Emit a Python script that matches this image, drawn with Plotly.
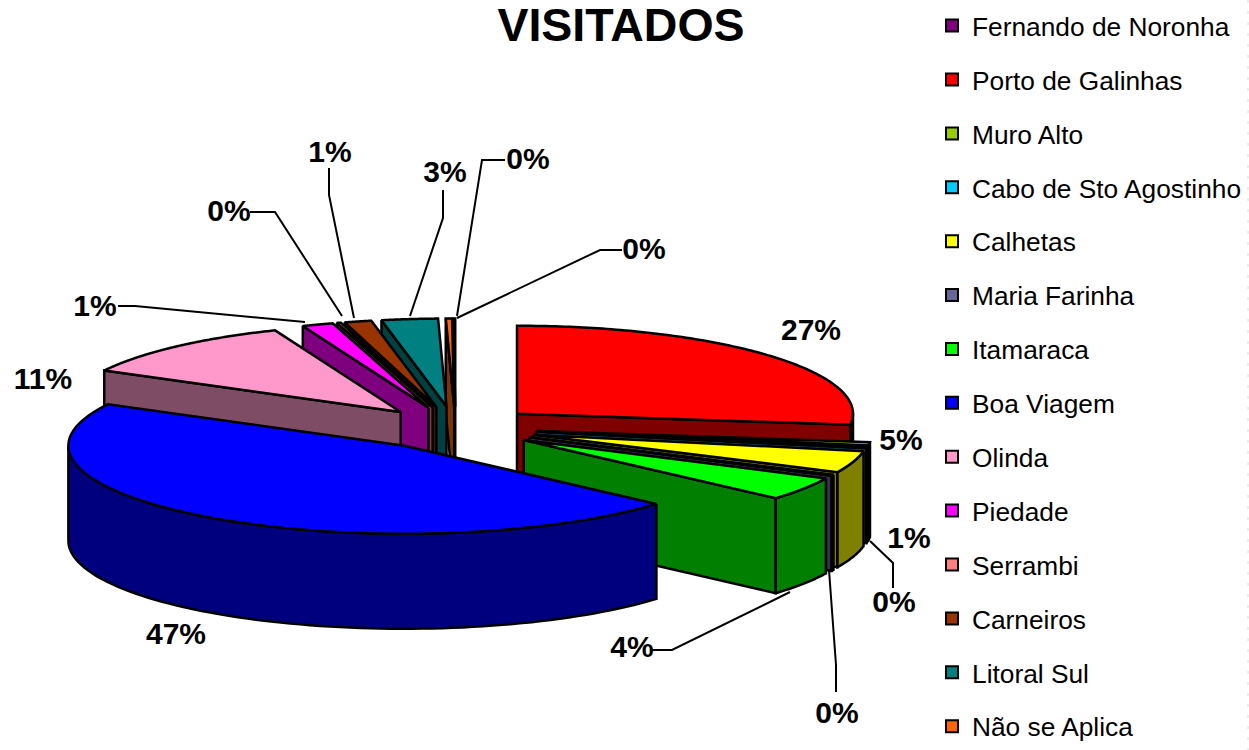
import numpy as np
import plotly.graph_objects as go

# ---- data ----
categories = ["Fernando de Noronha", "Porto de Galinhas", "Muro Alto", "Cabo de Sto Agostinho",
              "Calhetas", "Maria Farinha", "Itamaraca", "Boa Viagem", "Olinda", "Piedade",
              "Serrambi", "Carneiros", "Litoral Sul", "Não se Aplica"]
values = [0.1, 27.0, 0.6, 0.4, 4.0, 0.2, 4.3, 46.3, 11.1, 1.5, 0.2, 1.3, 2.7, 0.3]
percent_labels = ["0%", "27%", "5%", "1%", "0%", "0%", "4%", "47%", "11%", "1%", "0%", "1%", "3%", "0%"]
colors = ["#800080", "#FF0000", "#99CC00", "#00CCFF", "#FFFF00", "#666699", "#00FF00",
          "#0000FF", "#FF99CC", "#FF00FF", "#FF8080", "#993300", "#008080", "#FF6600"]

# ---- layout of the drawing ----
W, H = 1249, 750
CENTER = (455.5, 428.0)
RX, RY, DEPTH = 336.0, 88.0, 95.0
EXPLODE_X = [0.244] * 7 + [0.267] + [0.244] * 6
EXPLODE_Y = 0.245
LW = 2.5
DRAW_ORDER = [0, 13, 12, 11, 10, 9, 8, 1, 2, 3, 4, 5, 6, 7]
LABEL_X = [644, 811, 901, 909, 894, 837, 632, 176, 43, 95, 229, 330, 445, 528]
LABEL_Y = [251, 332, 442, 540, 604, 715, 649, 636, 381, 308, 213, 154, 174, 161]
LEADERS = [
    [(622, 250), (600, 250), (457, 318)],
    [(893, 588), (893, 563), (870, 541)],
    [(836, 692), (836, 665), (829, 570)],
    [(652, 650), (672, 650), (790, 592)],
    [(118, 306), (135, 306), (305, 322)],
    [(250, 212), (275, 212), (342, 316)],
    [(329, 168), (329, 195), (354, 318)],
    [(443, 190), (443, 218), (410, 316)],
    [(505, 160), (482, 160), (457, 316)],
]


def shade(hex_color):
    r, g, b = (int(hex_color[i:i + 2], 16) for i in (1, 3, 5))
    return f"rgb({r // 2},{g // 2},{b // 2})"


fig = go.Figure()


def poly(xs, ys, fill):
    fig.add_trace(go.Scatter(x=np.r_[xs, xs[0]], y=np.r_[ys, ys[0]], mode="lines", fill="toself",
                             fillcolor=fill, line=dict(color="black", width=LW, simplify=False),
                             hoverinfo="skip", showlegend=False))


total = sum(values)
fracs = np.array(values) / total
ends = np.cumsum(fracs) - fracs[0]
starts = ends - fracs
starts *= 2 * np.pi
ends *= 2 * np.pi
# the first slice sits just before 12 o'clock: shift to 0..2pi
starts[0] += 2 * np.pi
ends[0] += 2 * np.pi

for i in DRAW_ORDER:
    s, e = starts[i], ends[i]
    mid = (s + e) / 2
    cx = CENTER[0] + EXPLODE_X[i] * RX * np.sin(mid)
    cy = CENTER[1] - EXPLODE_Y * RY * np.cos(mid)
    rim = lambda t: (cx + RX * np.sin(t), cy - RY * np.cos(t))
    dark = shade(colors[i])
    if np.sin(s) < 0:
        rx, ry = rim(s)
        poly([cx, rx, rx, cx], [cy, ry, ry + DEPTH, cy + DEPTH], dark)
    if np.sin(e) > 0:
        rx, ry = rim(e)
        poly([cx, rx, rx, cx], [cy, ry, ry + DEPTH, cy + DEPTH], dark)
    lo, hi = max(s, np.pi / 2), min(e, 3 * np.pi / 2)
    if hi > lo:
        t = np.linspace(lo, hi, 80)
        ax, ay = rim(t)
        poly(np.r_[ax, ax[::-1]], np.r_[ay, ay[::-1] + DEPTH], dark)
    t = np.linspace(s, e, 120)
    ax, ay = rim(t)
    poly(np.r_[cx, ax], np.r_[cy, ay], colors[i])

# leader lines
lx, ly = [], []
for seg in LEADERS:
    lx += [p[0] for p in seg] + [None]
    ly += [p[1] for p in seg] + [None]
fig.add_trace(go.Scatter(x=lx, y=ly, mode="lines", line=dict(color="black", width=2),
                         hoverinfo="skip", showlegend=False))

# percentage labels
fig.add_trace(go.Scatter(x=LABEL_X, y=LABEL_Y, text=percent_labels, mode="text",
                         textposition="middle center",
                         textfont=dict(family="Liberation Sans", size=30, color="black", weight="bold"),
                         hoverinfo="skip", showlegend=False))

# legend entries
for name, col in zip(categories, colors):
    fig.add_trace(go.Scatter(x=[None], y=[None], mode="markers", name=name, legendgroup=name,
                             marker=dict(symbol="square", size=15, color=col,
                                         line=dict(color="black", width=2))))

fig.update_layout(
    width=W, height=H, margin=dict(l=0, r=0, t=0, b=0),
    paper_bgcolor="white", plot_bgcolor="white",
    xaxis=dict(range=[0, W], visible=False, fixedrange=True),
    yaxis=dict(range=[H, 0], visible=False, fixedrange=True),
    title=dict(text="<b>VISITADOS</b>", x=621 / W, xanchor="center", y=1 - 25 / H, yanchor="middle",
               font=dict(family="Liberation Sans", size=46.5, color="black")),
    legend=dict(x=932 / W, xanchor="left", y=1 - 9 / H, yanchor="top", tracegroupgap=16.7,
                bgcolor="rgba(0,0,0,0)", itemsizing="constant",
                font=dict(family="Liberation Sans", size=26.3, color="black")),
    shapes=[dict(type="line", xref="x", yref="y", x0=1248, x1=1248, y0=0, y1=H,
                 line=dict(color="#dddddd", width=1, dash="3px,8px"))],
)
fig.write_html("out.html", config=dict(displayModeBar=False), post_script=(
    "document.body.style.margin='0';document.documentElement.style.overflow='hidden';"))
